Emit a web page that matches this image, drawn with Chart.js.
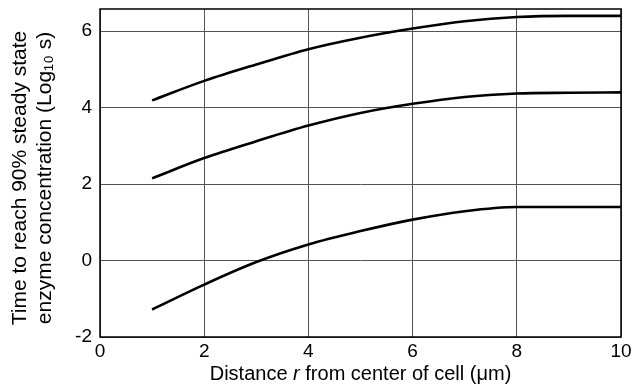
<!DOCTYPE html>
<html>
<head>
<meta charset="utf-8">
<script src="https://cdn.jsdelivr.net/npm/chart.js@4/dist/chart.umd.min.js"></script>
<style>
    html, body { margin: 0; padding: 0; background: #fff; }
    #wrap { width: 638px; height: 389px; }
</style>
</head>
<body>
<div id="wrap"><canvas id="chart"></canvas></div>
<script>
/* ── DATA ───────────────────────────────────── */
const distance = [1, 2, 3, 4, 5, 6, 7, 8, 9, 10];
const upperCurve  = [4.19, 4.70, 5.13, 5.53, 5.83, 6.07, 6.26, 6.37, 6.40, 6.40];
const middleCurve = [2.15, 2.68, 3.12, 3.53, 3.86, 4.10, 4.28, 4.37, 4.39, 4.40];
const lowerCurve  = [-1.28, -0.63, -0.04, 0.42, 0.77, 1.07, 1.29, 1.40, 1.40, 1.40];
const yTicks = [-2, 0, 2, 4, 6];
const xTicks = [0, 2, 4, 6, 8, 10];

const yTitleLines = ['Time to reach 90% steady state', 'enzyme concentration (Log\u2081\u2080 s)'];
const xTitleParts = ['Distance ', 'r', ' from center of cell (\u03bcm)'];

const FONT = '"Liberation Sans", Arial, Helvetica, sans-serif';
Chart.defaults.font.family = FONT;
Chart.defaults.color = '#000';

const toPoints = arr => distance.map((x, i) => ({ x, y: arr[i] }));

function curve(values) {
    return {
        data: toPoints(values),
        borderColor: '#000',
        borderWidth: 2.6,
        pointRadius: 0,
        fill: false,
        cubicInterpolationMode: 'monotone'
    };
}

/* ── FRAME + TITLES ─────────────────────────── */
const framePlugin = {
    id: 'frame',
    afterDraw(chart) {
        const { ctx, chartArea: a } = chart;
        ctx.save();
        ctx.strokeStyle = '#000';
        ctx.lineWidth = 1.5;
        ctx.strokeRect(a.left, a.top, a.right - a.left, a.bottom - a.top);

        // y title, two rotated lines
        ctx.font = '21px ' + FONT;
        ctx.textAlign = 'center';
        ctx.textBaseline = 'middle';
        ctx.translate(0, 178);
        ctx.rotate(-Math.PI / 2);
        ctx.fillText(yTitleLines[0], 0, 20);
        ctx.fillText(yTitleLines[1], 0, 45);
        ctx.restore();

        // x title with italic r
        ctx.save();
        ctx.textBaseline = 'middle';
        const normal = '20px ' + FONT;
        const italic = 'italic 20px ' + FONT;
        const widths = xTitleParts.map((t, i) => {
            ctx.font = i === 1 ? italic : normal;
            return ctx.measureText(t).width;
        });
        const total = widths.reduce((s, w) => s + w, 0);
        let x = (a.left + a.right) / 2 - total / 2;
        xTitleParts.forEach((t, i) => {
            ctx.font = i === 1 ? italic : normal;
            ctx.fillText(t, x, 374);
            x += widths[i];
        });
        ctx.restore();
    }
};

new Chart(document.getElementById('chart'), {
    type: 'line',
    data: {
        datasets: [curve(upperCurve), curve(middleCurve), curve(lowerCurve)]
    },
    options: {
        responsive: true,
        maintainAspectRatio: false,
        animation: false,
        layout: { padding: { top: 9, right: 17, left: 0, bottom: 0 } },
        plugins: {
            legend: { display: false },
            tooltip: { enabled: false }
        },
        scales: {
            x: {
                type: 'linear',
                min: 0,
                max: 10,
                afterBuildTicks: s => { s.ticks = xTicks.map(v => ({ value: v })); },
                afterFit: s => { s.height = 52; },
                border: { display: false },
                grid: { color: '#555', lineWidth: 1, drawTicks: false },
                ticks: { padding: 3, font: { size: 19 }, maxRotation: 0 }
            },
            y: {
                min: -2,
                max: 6.58,
                afterBuildTicks: s => { s.ticks = yTicks.map(v => ({ value: v })); },
                afterFit: s => { s.width = 100; s.paddingTop = 0; s.paddingBottom = 0; },
                border: { display: false },
                grid: { color: '#555', lineWidth: 1, drawTicks: false },
                ticks: { padding: 8, font: { size: 19 } }
            }
        }
    },
    plugins: [framePlugin]
});
</script>
</body>
</html>
